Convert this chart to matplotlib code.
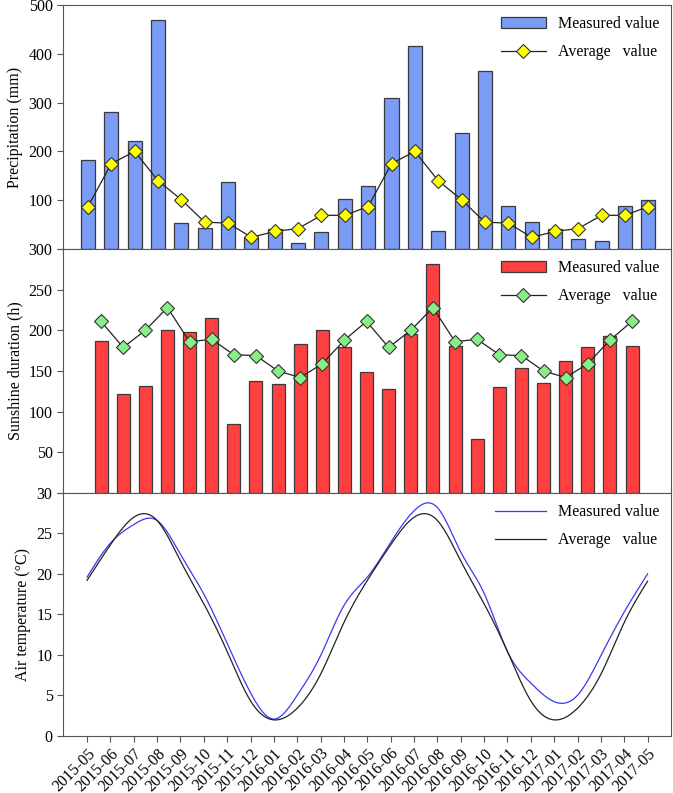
import numpy as np
import matplotlib
matplotlib.use('Agg')
import matplotlib.pyplot as plt
from matplotlib.patches import Patch
from matplotlib.lines import Line2D

plt.rcParams['font.family'] = ['Liberation Serif', 'DejaVu Serif']
plt.rcParams['font.size'] = 11

months = ['2015-05', '2015-06', '2015-07', '2015-08', '2015-09', '2015-10', '2015-11',
          '2015-12', '2016-01', '2016-02', '2016-03', '2016-04', '2016-05', '2016-06',
          '2016-07', '2016-08', '2016-09', '2016-10', '2016-11', '2016-12', '2017-01',
          '2017-02', '2017-03', '2017-04', '2017-05']

# precipitation (mm)
precip_meas = [183, 281, 221, 469, 53, 43, 138, 24, 42, 12, 34, 103, 130,
               309, 415, 36, 238, 365, 89, 56, 40, 21, 16, 89, 101]
precip_avg = [87, 175, 200, 140, 101, 55, 53, 24, 36, 42, 69, 69, 87,
              175, 200, 140, 101, 55, 53, 24, 36, 42, 69, 69, 87]

# sunshine duration (h)
sun_meas = [187, 122, 132, 201, 198, 215, 85, 138, 134, 183, 201, 179, 149,
            128, 195, 281, 181, 67, 130, 154, 135, 162, 180, 193, 181]
sun_avg = [211, 179, 200, 228, 186, 189, 170, 169, 150, 142, 159, 188, 211,
           179, 200, 228, 186, 189, 170, 169, 150, 142, 159, 188, 211]

# air temperature (C)
temp_meas = [19.6, 23.8, 26.1, 26.6, 22.4, 17.5, 11.4, 5.3, 2.05, 5.0, 9.9, 16.1, 19.6,
             23.9, 27.8, 28.2, 22.7, 17.6, 10.4, 6.5, 4.2, 5.0, 9.9, 15.3, 20.0]
temp_avg = [19.2, 23.6, 27.0, 26.6, 21.6, 16.3, 10.4, 4.3, 1.95, 3.4, 7.6, 14.0, 19.2,
            23.6, 27.0, 26.6, 21.6, 16.3, 10.4, 4.3, 1.95, 3.4, 7.6, 14.0, 19.1]


def natural_spline(y, n=600):
    y = np.asarray(y, dtype=float)
    k = len(y)
    x = np.arange(k)
    A = np.zeros((k, k))
    b = np.zeros(k)
    A[0, 0] = 1
    A[-1, -1] = 1
    for i in range(1, k - 1):
        A[i, i - 1] = 1
        A[i, i] = 4
        A[i, i + 1] = 1
        b[i] = 6 * (y[i + 1] - 2 * y[i] + y[i - 1])
    M = np.linalg.solve(A, b)
    xs = np.linspace(0, k - 1, n)
    j = np.clip(np.floor(xs).astype(int), 0, k - 2)
    t = xs - j
    ys = ((1 - t) * y[j] + t * y[j + 1]
          + ((1 - t) ** 3 - (1 - t)) * M[j] / 6 + (t ** 3 - t) * M[j + 1] / 6)
    return xs, ys


x = np.arange(len(months))
edge = '#3a3a3a'
spine_col = '#555555'

fig = plt.figure(figsize=(6.73, 7.93), dpi=100)
L, W = 0.0936, 0.9034
ax1 = fig.add_axes([L, 0.686, W, 0.3077])
ax2 = fig.add_axes([L, 0.3783, W, 0.3077])
ax3 = fig.add_axes([L, 0.0723, W, 0.306])

for ax in (ax1, ax2, ax3):
    for s in ax.spines.values():
        s.set_color(spine_col)
    ax.tick_params(axis='y', direction='out', length=4, color=spine_col, labelsize=11.5)

# precipitation
ax1.bar(x, precip_meas, width=0.6, color='#7b9cf6', edgecolor=edge, linewidth=0.9)
ax1.plot(x, precip_avg, color='#222222', lw=0.9, marker='D', ms=7.5,
         mfc='#ffff00', mec='#333333', mew=0.8)
ax1.set_xlim(-1.07, 24.97)
ax1.set_ylim(0, 500)
ax1.set_yticks([0, 100, 200, 300, 400, 500])
ax1.set_yticklabels(['', '100', '200', '300', '400', '500'])
ax1.set_xticks([])
ax1.set_ylabel('Precipitation (mm)', fontsize=11.5, labelpad=4)
h1 = [Patch(facecolor='#7b9cf6', edgecolor=edge, linewidth=0.9),
      Line2D([], [], color='#222222', lw=0.9, marker='D', ms=7.5,
             mfc='#ffff00', mec='#333333', mew=0.8)]
ax1.legend(h1, ['Measured value', 'Average   value'], loc='upper right', frameon=False,
           fontsize=11.5, handlelength=2.8, labelspacing=0.75, borderaxespad=0.3)

# sunshine
ax2.bar(x, sun_meas, width=0.59, color='#ff4040', edgecolor=edge, linewidth=0.9)
ax2.plot(x, sun_avg, color='#222222', lw=0.9, marker='D', ms=7.5,
         mfc='#88ee88', mec='#333333', mew=0.8)
ax2.set_xlim(-1.72, 25.76)
ax2.set_ylim(0, 300)
ax2.set_yticks([0, 50, 100, 150, 200, 250, 300])
ax2.set_yticklabels(['', '50', '100', '150', '200', '250', '300'])
ax2.set_xticks([])
ax2.set_ylabel('Sunshine duration (h)', fontsize=11.5, labelpad=4)
h2 = [Patch(facecolor='#ff4040', edgecolor=edge, linewidth=0.9),
      Line2D([], [], color='#222222', lw=0.9, marker='D', ms=7.5,
             mfc='#88ee88', mec='#333333', mew=0.8)]
ax2.legend(h2, ['Measured value', 'Average   value'], loc='upper right', frameon=False,
           fontsize=11.5, handlelength=2.8, labelspacing=0.75, borderaxespad=0.3)

# air temperature
xs, ys = natural_spline(temp_meas)
ax3.plot(xs, ys, color='#3a3af0', lw=0.9, label='Measured value')
xs, ys = natural_spline(temp_avg)
ax3.plot(xs, ys, color='#222222', lw=0.9, label='Average   value')
ax3.set_xlim(-1.03, 25.0)
ax3.set_ylim(0, 30)
ax3.set_yticks([0, 5, 10, 15, 20, 25, 30])
ax3.set_xticks(x)
ax3.set_xticklabels(months, rotation=45, ha='right', rotation_mode='anchor', fontsize=11.5)
ax3.tick_params(axis='x', direction='out', length=4, color=spine_col, pad=3)
ax3.set_ylabel('Air temperature (°C)', fontsize=11.5, labelpad=4)
ax3.legend(loc='upper right', frameon=False, fontsize=11.5, handlelength=3.2,
           labelspacing=0.75, borderaxespad=0.3)

fig.savefig('out.png', dpi=100)
